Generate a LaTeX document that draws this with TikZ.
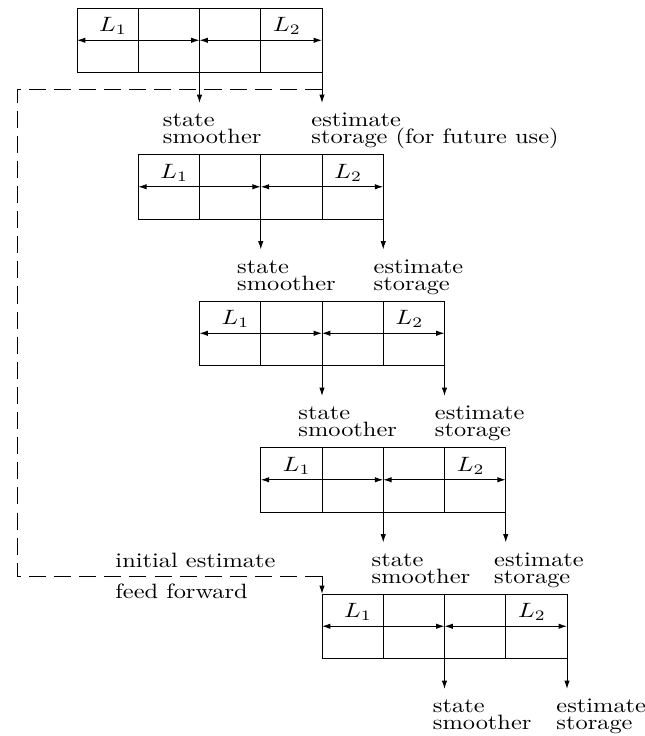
\documentclass[tikz,border=0pt]{standalone}
\usetikzlibrary{arrows.meta}
% text set slightly squat, as in the drawing
\newcommand{\sq}[1]{\scalebox{1}[0.85]{#1}}
\newcommand{\twoline}[2]{\sq{\vbox{\baselineskip=8pt\lineskiplimit=-20pt
  \hbox{#1}\hbox{#2}}}}
% one block of 4 x 2 cells with its two outputs:
% #1 index, #2/#3 x offsets of the two output labels, #4 text after "storage"
\newcommand{\stageblock}[4]{%
  \begin{scope}[shift={(77+61.25*#1,8+146.5*#1)}]
    \coordinate (tl#1) at (0,0);
    \coordinate (mid#1) at (122.5,64.5);
    \coordinate (rgt#1) at (245,64.5);
    \coordinate (sa#1) at (122.5,95);
    \coordinate (ea#1) at (245,95);
    \draw (0,0) rectangle (245,64.5);
    \draw (61.25,0) -- (61.25,64.5) (183.75,0) -- (183.75,64.5)
          (122.5,0) -- (122.5,64.5);
    \draw[dimline] (0,32.25) -- (122.5,32.25);
    \draw[dimline] (122.5,32.25) -- (245,32.25);
    \node (la#1) at (36,18) {\sq{$L_1$}};
    \node (lb#1) at (210,18) {\sq{$L_2$}};
    \draw[tipline] (mid#1) -- (sa#1);
    \draw[tipline] (rgt#1) -- (ea#1);
    \node[lbl] (st#1) at (122.5+#2,135.5) {\twoline{state}{smoother}};
    \node[lbl] (es#1) at (245+#3,135.5) {\twoline{estimate}{storage#4}};
  \end{scope}}
\begin{document}
\begin{tikzpicture}[x=0.41pt,y=-0.41pt,
  tipline/.style={-{Latex[length=3.4pt,width=2.2pt]}},
  dimline/.style={{Latex[length=3.4pt,width=2.2pt]}-{Latex[length=3.4pt,width=2.2pt]}},
  lbl/.style={anchor=base west,inner sep=0pt},
  feed/.style={dash pattern=on 7pt off 3.3pt}]
\useasboundingbox (0,0) rectangle (645,736);

\stageblock{0}{-37}{-11}{ (for future use)}
\stageblock{1}{-24}{-10}{}
\stageblock{2}{-24}{-10}{}
\stageblock{3}{-12}{-12}{}
\stageblock{4}{-12}{-11}{}

% feed-forward of the initial estimate
\coordinate (f0) at (322,89);
\coordinate (f1) at (17,89);
\coordinate (f2) at (17,576);
\coordinate (f3) at (322,576);
\draw[feed] (f0) -- (f1) -- (f2) -- (f3);
\draw[tipline] (f3) -- (tl4);
\node[anchor=base west,inner sep=0pt] (ie) at (115,567) {\sq{initial estimate}};
\node[anchor=base west,inner sep=0pt] (ff) at (115,598) {\sq{feed forward}};
\end{tikzpicture}
\end{document}
